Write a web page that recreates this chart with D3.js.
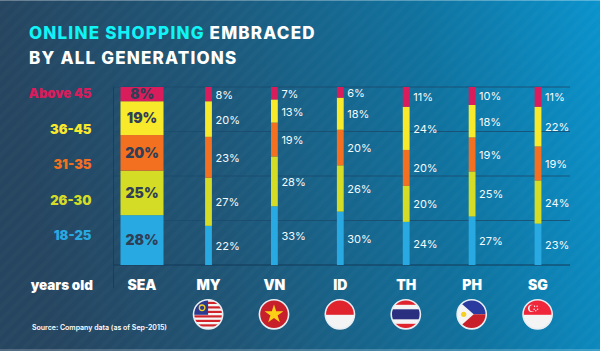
<!DOCTYPE html>
<html><head><meta charset="utf-8">
<script src="https://cdnjs.cloudflare.com/ajax/libs/d3/7.8.5/d3.min.js"></script>
<style>html,body{margin:0;padding:0;background:#1c4a68}svg{display:block}text{font-family:"Inter","Open Sans",sans-serif}</style>
</head><body><div id="chart"></div>
<script>
const markets=["SEA","MY","VN","ID","TH","PH","SG"];
const ageGroups=["18-25","26-30","31-35","36-45","Above 45"];
const age1825=[28,22,33,30,24,27,23];
const age2630=[25,27,28,26,20,25,24];
const age3135=[20,23,19,20,20,19,19];
const age3645=[19,20,13,18,24,18,22];
const ageAbove45=[8,8,7,6,11,10,11];
const ageSeries=[age1825,age2630,age3135,age3645,ageAbove45];
const ageColors=["#29a9e1","#d5dc26","#f37021","#f9e92b","#d91c5c"];
const gridTicks=[0,.25,.5,.75,1];
const W=600,H=351;
const svg=d3.select("#chart").append("svg").attr("width",W).attr("height",H);
const defs=svg.append("defs");
const g=defs.append("linearGradient").attr("id","bg").attr("x1",0).attr("x2",1).attr("y1",0.1).attr("y2",0);
[[0,"#264560"],[.3,"#1f5576"],[.7,"#10739f"],[1,"#0a93cc"]].forEach(d=>g.append("stop").attr("offset",d[0]).attr("stop-color",d[1]));
const p=defs.append("pattern").attr("id","st").attr("width",9).attr("height",9).attr("patternUnits","userSpaceOnUse").attr("patternTransform","rotate(45)");
p.append("rect").attr("width",4).attr("height",9).attr("fill","#fff").attr("fill-opacity",.016);
svg.append("rect").attr("width",W).attr("height",H).attr("fill","url(#bg)");
svg.append("rect").attr("width",W).attr("height",H).attr("fill","url(#st)");
svg.append("rect").attr("width",W).attr("height",1).attr("fill","#fff").attr("fill-opacity",.3);
svg.append("rect").attr("y",H-2).attr("width",W).attr("height",2).attr("fill","#fff").attr("fill-opacity",.2);

const title=svg.append("text").attr("x",29).attr("y",39).attr("font-size",17).attr("font-weight",800).attr("letter-spacing",1.2).attr("fill","#fff");
title.append("tspan").attr("fill","#10f4f6").text("ONLINE SHOPPING");
title.append("tspan").text(" EMBRACED");
svg.append("text").attr("x",29).attr("y",63.5).attr("font-size",17).attr("font-weight",800).attr("letter-spacing",1.2).attr("fill","#fff").text("BY ALL GENERATIONS");

const y=d3.scaleLinear().domain([0,1]).range([265,87]);
const xc=d3.scalePoint().domain(markets.slice(1)).range([208.5,538]);
const cx=m=>m==="SEA"?142:xc(m);
const stack=d3.stack().keys(d3.range(5)).value((m,k)=>ageSeries[k][markets.indexOf(m)]).offset(d3.stackOffsetExpand);
const layers=stack(markets);

const gridG=svg.append("g");
gridG.selectAll("line").data(gridTicks).join("line").attr("x1",113).attr("x2",570).attr("y1",d=>y(d)).attr("y2",d=>y(d)).attr("stroke",d=>d===0?"#123a58":"#1a4a6c").attr("stroke-width",d=>d===0?1:.8);
gridG.append("line").attr("x1",113.5).attr("x2",113.5).attr("y1",87).attr("y2",288).attr("stroke","#1c3f58");

const labelY=[239.5,204.5,169,133.5,97.5];
layers.forEach((l,k)=>{
  svg.append("g").selectAll("rect").data(l).join("rect")
   .attr("x",d=>cx(d.data)-(d.data==="SEA"?21.5:3.4)).attr("width",d=>d.data==="SEA"?43:6.8)
   .attr("y",d=>y(d[1])).attr("height",d=>y(d[0])-y(d[1])).attr("fill",ageColors[k]);
  svg.append("g").selectAll("text").data(l).join("text")
   .attr("x",d=>d.data==="SEA"?142:cx(d.data)+7)
   .attr("y",d=>(y(d[0])+y(d[1]))/2+(d.data==="SEA"?5:4.5))
   .attr("text-anchor",d=>d.data==="SEA"?"middle":"start")
   .attr("font-size",d=>d.data==="SEA"?14:11)
   .attr("font-weight",d=>d.data==="SEA"?900:400)
   .attr("fill",d=>d.data==="SEA"?"#2f3f55":"#f4fbfe")
   .text((d,i)=>ageSeries[k][i]+"%");
  svg.append("text").attr("x",91.5).attr("text-anchor","end").attr("y",labelY[k])
   .attr("font-size",13).attr("font-weight",900).attr("fill",ageColors[k]).text(ageGroups[k]);
});
svg.append("text").attr("x",93).attr("y",290).attr("text-anchor","end").attr("font-size",13.5).attr("font-weight",900).attr("fill","#fff").text("years old");
svg.selectAll("text.m").data(markets).join("text").attr("class","m").attr("x",cx).attr("y",290).attr("text-anchor","middle").attr("font-size",14).attr("font-weight",900).attr("fill","#fff").text(d=>d);
svg.append("text").attr("x",32).attr("y",330).attr("font-size",7).attr("font-weight",600).attr("fill","#fff").text("Source: Company data (as of Sep-2015)");

// flags
const R=14.6,fy=314.3;
function flag(m,draw){
  const c=cx(m)-.4,id="f"+m;
  defs.append("clipPath").attr("id",id).append("circle").attr("r",R);
  const f=svg.append("g").attr("transform",`translate(${c},${fy})`);
  const i=f.append("g").attr("clip-path",`url(#${id})`);
  i.append("rect").attr("x",-R).attr("y",-R).attr("width",2*R).attr("height",2*R).attr("fill","#f4f4f4");
  const r=(x,y,w,h,col)=>i.append("rect").attr("x",x).attr("y",y).attr("width",w).attr("height",h).attr("fill",col);
  draw(i,r);
  f.append("circle").attr("r",R).attr("fill","none").attr("stroke","#e8eef3").attr("stroke-width",1.6);
}
const star=d3.symbol().type(d3.symbolStar);
flag("MY",(i,r)=>{
  [-12.5,-8,-3.5,1,5.5,10].forEach(yy=>r(-R,yy,2*R,2.2,"#d2232a"));
  r(-R,-R,R,R+.5,"#2b3a8f");
  i.append("circle").attr("cx",-6).attr("cy",-6.5).attr("r",2.8).attr("fill","none").attr("stroke","#f5d020").attr("stroke-width",1.3);
});
flag("VN",(i,r)=>{
  r(-R,-R,2*R,2*R,"#c8202a");
  i.append("path").attr("d",star.size(110)()).attr("fill","#fbd016");
});
flag("ID",(i,r)=>{ r(-R,-R,2*R,R+.5,"#e0242e"); });
flag("TH",(i,r)=>{
  r(-R,-R,2*R,2*R,"#e0242e");
  r(-R,-9.5,2*R,19,"#f4f4f4");
  r(-R,-5,2*R,10,"#2b2f7f");
});
flag("PH",(i,r)=>{
  r(-R,-R,2*R,R,"#2b3a9f");
  r(-R,0,2*R,R,"#c8202a");
  i.append("path").attr("d",`M${-R},${-R}L2,0L${-R},${R}Z`).attr("fill","#f4f4f4");
  i.append("circle").attr("cx",-8).attr("cy",0).attr("r",2.6).attr("fill","#f5d020");
});
flag("SG",(i,r)=>{
  r(-R,-R,2*R,R+.5,"#f0263a");
  i.append("circle").attr("cx",-6).attr("cy",-6).attr("r",3.6).attr("fill","#f4f4f4");
  i.append("circle").attr("cx",-4.8).attr("cy",-6).attr("r",3.2).attr("fill","#f0263a");
  [[-3,-8],[-0.5,-8],[-3.5,-5],[0,-5],[-1.8,-3.5]].forEach(c=>i.append("circle").attr("cx",c[0]).attr("cy",c[1]).attr("r",.7).attr("fill","#f4f4f4"));
});
</script></body></html>
